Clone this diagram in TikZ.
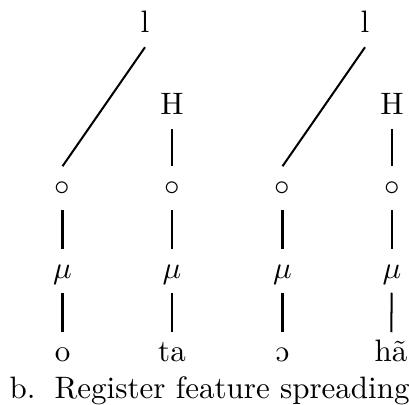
\documentclass[tikz,border=0pt]{standalone}
\usepackage{tipa}
\usetikzlibrary{positioning}

\begin{document}
\begin{tikzpicture}[
      x=0.3227pt, y=-0.3227pt,
      tier/.style={inner sep=0pt, outer sep=2.6pt, anchor=base,
                   text height=7pt, text depth=2pt},
      assoc/.style={line width=0.65pt, draw=black}
    ]
    \useasboundingbox (0,0) rectangle (409,405);
    \node[tier] (l1) at (145,33) {l};
    \node[tier] (l2) at (365,33) {l};
    \node[tier] (h1) at (172,115) {H};
    \node[tier] (h2) at (392,115) {H};
    \node[tier] (c1) at (62.5,196) {$\circ$};
    \node[tier] (c2) at (172,196) {$\circ$};
    \node[tier] (c3) at (282.5,196) {$\circ$};
    \node[tier] (c4) at (392,196) {$\circ$};
    \node[tier] (m1) at (62.5,278.5) {$\mu$};
    \node[tier] (m2) at (172,278.5) {$\mu$};
    \node[tier] (m3) at (282.5,278.5) {$\mu$};
    \node[tier] (m4) at (392,278.5) {$\mu$};
    \node[tier] (s1) at (62.5,362) {o};
    \node[tier] (s2) at (172,362) {ta};
    \node[tier] (s3) at (282.5,362) {\textopeno};
    \node[tier] (s4) at (391,362) {h\~a};
    \node[inner sep=0pt, anchor=base west] (cap) at (9,399)
      {b.\hspace{6.2pt}Register feature spreading};
    \draw[assoc] (l1.south) -- (c1.north);
    \draw[assoc] (l2.south) -- (c3.north);
    \draw[assoc] (h1) -- (c2);
    \draw[assoc] (h2) -- (c4);
    \draw[assoc] (c1) -- (m1);
    \draw[assoc] (c2) -- (m2);
    \draw[assoc] (c3) -- (m3);
    \draw[assoc] (c4) -- (m4);
    \draw[assoc] (m1) -- (s1);
    \draw[assoc] (m2) -- (s2);
    \draw[assoc] (m3) -- (s3);
    \draw[assoc] (m4) -- (s4);
  \end{tikzpicture}
\end{document}
